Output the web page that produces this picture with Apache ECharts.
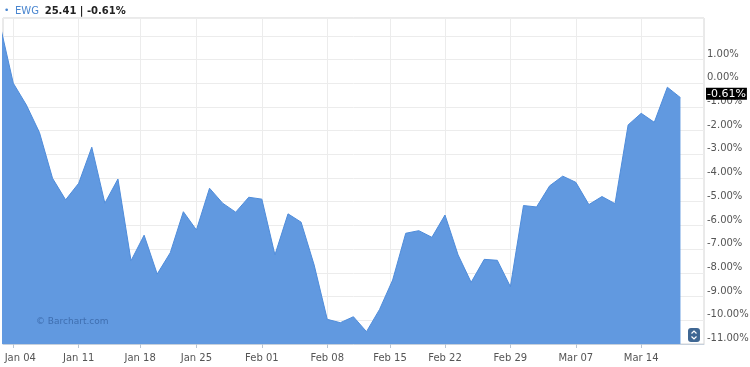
<!DOCTYPE html>
<html>
<head>
<meta charset="utf-8">
<script src="https://cdn.jsdelivr.net/npm/echarts@6/dist/echarts.min.js"></script>
<style>
html,body{margin:0;padding:0;background:#fff;}
#chart{width:750px;height:367px;}
</style>
</head>
<body>
<div id="chart"></div>
<script>
// Trading days (index 0 = Dec 31, 2015)
const dates = ['Dec 31','Jan 04','Jan 05','Jan 06','Jan 07','Jan 08','Jan 11','Jan 12','Jan 13','Jan 14','Jan 15',
  'Jan 19','Jan 20','Jan 21','Jan 22','Jan 25','Jan 26','Jan 27','Jan 28','Jan 29',
  'Feb 01','Feb 02','Feb 03','Feb 04','Feb 05','Feb 08','Feb 09','Feb 10','Feb 11','Feb 12',
  'Feb 16','Feb 17','Feb 18','Feb 19','Feb 22','Feb 23','Feb 24','Feb 25','Feb 26',
  'Feb 29','Mar 01','Mar 02','Mar 03','Mar 04','Mar 07','Mar 08','Mar 09','Mar 10','Mar 11',
  'Mar 14','Mar 15','Mar 16','Mar 17'];
// Percent change values
const values = [2.43, 0.00, -0.92, -2.08, -4.01, -4.92, -4.22, -2.70, -5.06, -4.04, -7.49,
  -6.41, -8.05, -7.15, -5.42, -6.19, -4.43, -5.06, -5.44, -4.81,
  -4.89, -7.24, -5.51, -5.86, -7.67, -9.96, -10.10, -9.85, -10.48, -9.54,
  -8.30, -6.33, -6.22, -6.50, -5.56, -7.24, -8.40, -7.43, -7.47,
  -8.58, -5.16, -5.22, -4.33, -3.92, -4.18, -5.12, -4.78, -5.08, -1.76,
  -1.27, -1.65, -0.17, -0.61];
// X tick labels and their positions (in trading-day index units)
const tickLabels = ['Jan 04','Jan 11','Jan 18','Jan 25','Feb 01','Feb 08','Feb 15','Feb 22','Feb 29','Mar 07','Mar 14'];
const tickIdx = [1, 6, 10.7, 15, 20, 25, 29.8, 34, 39, 44, 49];
const symbolName = 'EWG';
const lastPrice = '25.41';
const lastChange = -0.61;

const chart = echarts.init(document.getElementById('chart'));
const FONT = 'DejaVu Sans';
const seriesData = values.map((v, i) => [i, v]);
const fmtPct = v => v.toFixed(2) + '%';

chart.setOption({
  animation: false,
  backgroundColor: '#fff',
  textStyle: { fontFamily: FONT },
  title: {
    left: 4, top: 2, padding: 0,
    text: '{d|•} {s|' + symbolName + '} {v|' + lastPrice + ' | ' + fmtPct(lastChange) + '}',
    textStyle: {
      fontWeight: 'normal',
      rich: {
        d: { color: '#4a86cf', fontSize: 9, fontWeight: 'normal', fontFamily: FONT },
        s: { color: '#4a86cf', fontSize: 10, fontWeight: 'normal', fontFamily: FONT },
        v: { color: '#222', fontSize: 10, fontWeight: 'bold', fontFamily: FONT }
      }
    }
  },
  grid: {
    left: 3, right: 46, top: 18, bottom: 23,
    outerBoundsMode: 'none', containLabel: false,
    show: true, borderColor: '#d4d4d4', borderWidth: 1, backgroundColor: 'transparent'
  },
  xAxis: {
    type: 'value',
    min: 0.213, max: 53.8,
    axisLine: { show: true, onZero: false, lineStyle: { color: '#c6d0dc' } },
    axisTick: { show: true, length: 4, customValues: tickIdx, lineStyle: { color: '#b8c4d2' } },
    axisLabel: {
      customValues: tickIdx,
      margin: 9,
      color: '#555', fontSize: 10, fontFamily: FONT,
      rich: { first: { color: '#555', fontSize: 10, fontFamily: FONT, padding: [0, 0, 0, 14] } },
      formatter: v => {
        const k = tickIdx.findIndex(t => Math.abs(t - v) < 1e-6);
        if (k < 0) return '';
        return k === 0 ? '{first|' + tickLabels[k] + '}' : tickLabels[k];
      }
    },
    splitLine: { show: true, lineStyle: { color: '#ececec', width: 1 } }
  },
  yAxis: {
    type: 'value',
    position: 'right',
    min: -11, max: 2.75, interval: 1,
    axisLine: { show: false },
    axisTick: { show: false },
    axisLabel: {
      margin: 3, color: '#555', fontSize: 10, fontFamily: FONT,
      verticalAlign: 'bottom', lineHeight: 11,
      formatter: v => (v > 1.5 ? '' : fmtPct(v))
    },
    splitLine: { show: true, lineStyle: { color: '#ececec', width: 1 } }
  },
  series: [{
    type: 'line',
    data: seriesData,
    clip: true,
    showSymbol: false,
    symbol: 'none',
    lineStyle: { color: '#4f8cda', width: 1 },
    areaStyle: { color: '#6199e0', opacity: 1, origin: 'start' },
    markLine: {
      silent: true,
      symbol: 'none',
      lineStyle: { color: 'rgba(0,0,0,0)', width: 1, type: 'solid' },
      label: {
        show: true, position: 'end', distance: 2,
        offset: [0, -4],
        color: '#fff', backgroundColor: '#000',
        fontSize: 11, fontFamily: FONT,
        padding: [1, 1, 0, 1],
        formatter: () => fmtPct(lastChange)
      },
      data: [{ yAxis: lastChange }]
    }
  }],
  graphic: [
    {
      type: 'text', left: 36, top: 317, silent: true, z: 100,
      style: { text: '© Barchart.com', fill: 'rgba(35,75,135,0.55)', font: '9px "DejaVu Sans"' }
    },
    {
      type: 'group', left: 688, top: 328, silent: true, z: 100,
      children: [
        { type: 'rect', shape: { x: 0, y: 0, width: 12, height: 14, r: 3 }, style: { fill: '#3f6793' } },
        { type: 'polyline', shape: { points: [[3.5, 5.5], [6, 3], [8.5, 5.5]] }, style: { stroke: '#fff', lineWidth: 1.2, fill: null } },
        { type: 'polyline', shape: { points: [[3.5, 8.5], [6, 11], [8.5, 8.5]] }, style: { stroke: '#fff', lineWidth: 1.2, fill: null } }
      ]
    }
  ]
});
</script>
</body>
</html>
